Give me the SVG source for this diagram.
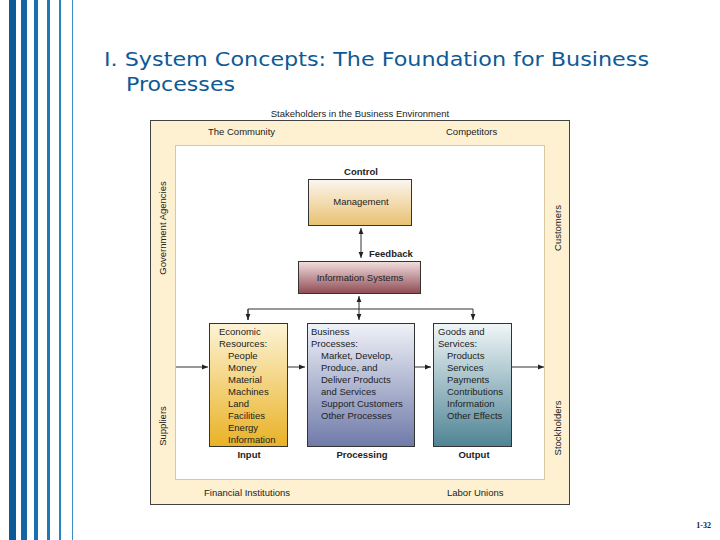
<svg xmlns="http://www.w3.org/2000/svg" width="720" height="540" viewBox="0 0 720 540">
<defs>
<linearGradient id="gy" x1="0" y1="0" x2="0" y2="1"><stop offset="0" stop-color="#fdf3d6"/><stop offset="1" stop-color="#e9b225"/></linearGradient>
<linearGradient id="gm" x1="0" y1="0" x2="0" y2="1"><stop offset="0" stop-color="#fbf6f0"/><stop offset="1" stop-color="#e9c170"/></linearGradient>
<linearGradient id="gr" x1="0" y1="0" x2="0" y2="1"><stop offset="0" stop-color="#f3dede"/><stop offset="1" stop-color="#8e4b55"/></linearGradient>
<linearGradient id="gb" x1="0" y1="0" x2="0" y2="1"><stop offset="0" stop-color="#f0f2f8"/><stop offset="1" stop-color="#6f7aa8"/></linearGradient>
<linearGradient id="gt" x1="0" y1="0" x2="0" y2="1"><stop offset="0" stop-color="#f0f6f8"/><stop offset="1" stop-color="#4f8494"/></linearGradient>
<marker id="a" viewBox="0 0 10 10" refX="10" refY="5" markerWidth="6" markerHeight="6" orient="auto-start-reverse"><path d="M0,1 L10,5 L0,9 Z" fill="#222"/></marker>
</defs>
<style>
.t{font-family:"Liberation Sans",Arial,sans-serif;font-size:9.5px;fill:#222}
.b{font-weight:bold}
.box{stroke:#333;stroke-width:1}
.c{stroke:#333;stroke-width:1;fill:none}
.h{font-family:"DejaVu Sans",sans-serif;font-size:20px;fill:#0d5a96}
</style>
<rect width="720" height="540" fill="#fff"/>
<g id="stripes">
<rect x="9" y="0" width="7" height="540" fill="#0d5a96"/>
<rect x="21" y="0" width="6" height="540" fill="#1565a5"/>
<rect x="34" y="0" width="4" height="540" fill="#1a6fb0"/>
<rect x="47" y="0" width="3" height="540" fill="#2078b8"/>
<rect x="59" y="0" width="2" height="540" fill="#2a82c0"/>
<rect x="72" y="0" width="1" height="540" fill="#3a8cc8"/>
</g>
<text x="104" y="66" class="h" textLength="545" lengthAdjust="spacingAndGlyphs">I. System Concepts: The Foundation for Business</text>
<text x="126" y="91" class="h" textLength="109" lengthAdjust="spacingAndGlyphs">Processes</text>
<text x="360" y="117" text-anchor="middle" class="t">Stakeholders in the Business Environment</text>
<g id="frame">
<rect x="150.5" y="120.5" width="419" height="384" fill="#fdf1d2" stroke="#444"/>
<rect x="175.5" y="145.5" width="369" height="334" fill="#fff" stroke="#d8c9a0"/>
<text x="208" y="135" class="t">The Community</text>
<text x="446" y="135" class="t">Competitors</text>
<text x="204" y="496" class="t">Financial Institutions</text>
<text x="447" y="496" class="t">Labor Unions</text>
<text transform="translate(166,228) rotate(-90)" text-anchor="middle" class="t">Government Agencies</text>
<text transform="translate(561,228) rotate(-90)" text-anchor="middle" class="t">Customers</text>
<text transform="translate(166,426) rotate(-90)" text-anchor="middle" class="t">Suppliers</text>
<text transform="translate(561,428) rotate(-90)" text-anchor="middle" class="t">Stockholders</text>
</g>
<g id="connectors">
<path class="c" d="M361,228 V258" marker-start="url(#a)" marker-end="url(#a)"/>
<path class="c" d="M359,296 V320" marker-start="url(#a)" marker-end="url(#a)"/>
<path class="c" d="M248,320 V309 H473 V320" marker-end="url(#a)"/>
<path class="c" d="M248,309 V320" marker-end="url(#a)"/>
<path class="c" d="M176,367 H208" marker-end="url(#a)"/>
<path class="c" d="M288,367 H305" marker-end="url(#a)"/>
<path class="c" d="M415,367 H431" marker-end="url(#a)"/>
<path class="c" d="M512,367 H544" marker-end="url(#a)"/>
</g>
<g id="management">
<text x="361" y="175" text-anchor="middle" class="t b">Control</text>
<rect x="308.5" y="179.5" width="103" height="46" fill="url(#gm)" class="box"/>
<text x="361" y="205" text-anchor="middle" class="t">Management</text>
</g>
<text x="369" y="257" class="t b">Feedback</text>
<g id="infosys">
<rect x="298.5" y="261.5" width="122" height="32" fill="url(#gr)" class="box"/>
<text x="360" y="281" text-anchor="middle" class="t">Information Systems</text>
</g>
<g id="input">
<rect x="209.5" y="323.5" width="78" height="123" fill="url(#gy)" class="box"/>
<text class="t"><tspan x="219" y="335">Economic</tspan><tspan x="219" y="347">Resources:</tspan><tspan x="228" y="359">People</tspan><tspan x="228" y="371">Money</tspan><tspan x="228" y="383">Material</tspan><tspan x="228" y="395">Machines</tspan><tspan x="228" y="407">Land</tspan><tspan x="228" y="419">Facilities</tspan><tspan x="228" y="431">Energy</tspan><tspan x="228" y="443">Information</tspan></text>
<text x="249" y="458" text-anchor="middle" class="t b">Input</text>
</g>
<g id="processing">
<rect x="307.5" y="323.5" width="107" height="123" fill="url(#gb)" class="box"/>
<text class="t"><tspan x="311" y="335">Business</tspan><tspan x="311" y="347">Processes:</tspan><tspan x="321" y="359">Market, Develop,</tspan><tspan x="321" y="371">Produce, and</tspan><tspan x="321" y="383">Deliver Products</tspan><tspan x="321" y="395">and Services</tspan><tspan x="321" y="407">Support Customers</tspan><tspan x="321" y="419">Other Processes</tspan></text>
<text x="362" y="458" text-anchor="middle" class="t b">Processing</text>
</g>
<g id="output">
<rect x="433.5" y="323.5" width="78" height="123" fill="url(#gt)" class="box"/>
<text class="t"><tspan x="438" y="335">Goods and</tspan><tspan x="438" y="347">Services:</tspan><tspan x="447" y="359">Products</tspan><tspan x="447" y="371">Services</tspan><tspan x="447" y="383">Payments</tspan><tspan x="447" y="395">Contributions</tspan><tspan x="447" y="407">Information</tspan><tspan x="447" y="419">Other Effects</tspan></text>
<text x="474" y="458" text-anchor="middle" class="t b">Output</text>
</g>
<text x="711" y="528" text-anchor="end" font-family="Liberation Serif, serif" font-size="8" font-weight="bold" fill="#222">1-32</text>
</svg>
